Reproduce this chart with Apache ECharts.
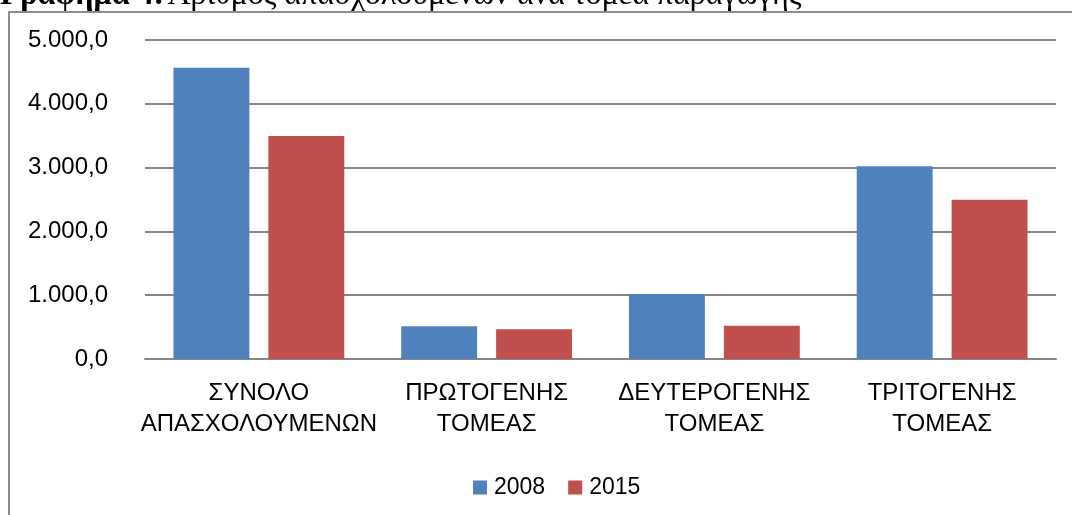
<!DOCTYPE html>
<html>
<head>
<meta charset="utf-8">
<script src="https://cdn.jsdelivr.net/npm/echarts@6/dist/echarts.min.js"></script>
<style>
html,body{margin:0;padding:0;background:#fff;}
#c{width:1072px;height:515px;}
</style>
</head>
<body>
<div id="c"></div>
<script>
const categories = ['ΣΥΝΟΛΟ\nΑΠΑΣΧΟΛΟΥΜΕΝΩΝ', 'ΠΡΩΤΟΓΕΝΗΣ\nΤΟΜΕΑΣ', 'ΔΕΥΤΕΡΟΓΕΝΗΣ\nΤΟΜΕΑΣ', 'ΤΡΙΤΟΓΕΝΗΣ\nΤΟΜΕΑΣ'];
const seriesNames = ['2008', '2015'];
const values2008 = [4565, 515, 1020, 3020];
const values2015 = [3495, 465, 520, 2495];
const yTicks = [0, 1000, 2000, 3000, 4000, 5000];

function fmt(v) {
  const s = Math.round(v).toString().replace(/\B(?=(\d{3})+(?!\d))/g, '.');
  return s + ',0';
}

const font = 'Liberation Sans';
const chart = echarts.init(document.getElementById('c'), null, {renderer: 'canvas'});
chart.setOption({
  animation: false,
  backgroundColor: '#fff',
  graphic: [
    {type: 'rect', shape: {x: 9, y: 12, width: 1200, height: 700}, style: {fill: 'none', stroke: '#8c8c8c', lineWidth: 2}, z: 0},
    {type: 'text', left: 0, top: -20, style: {
      text: '{b|Γράφημα 4:} {r|Αριθμός απασχολουμένων ανά τομέα παραγωγής}',
      rich: {
        b: {fontFamily: 'Liberation Serif', fontSize: 32, fontWeight: 'bold', fill: '#000'},
        r: {fontFamily: 'Liberation Serif', fontSize: 32, fill: '#000'}
      }
    }}
  ],
  grid: {left: 145, right: 16, top: 40, bottom: 156},
  legend: {
    data: seriesNames, left: 468, top: 471,
    itemWidth: 14, itemHeight: 14, itemGap: 23,
    icon: 'rect',
    textStyle: {fontFamily: font, fontSize: 23, color: '#000', padding: [0,0,0,2]}
  },
  xAxis: {
    type: 'category', data: categories,
    axisLine: {lineStyle: {color: '#868686', width: 2}},
    axisTick: {show: false},
    axisLabel: {interval: 0, margin: 19, fontFamily: font, fontSize: 24, color: '#000', lineHeight: 31}
  },
  yAxis: {
    type: 'value', min: 0, max: 5000, interval: 1000,
    axisLine: {show: false}, axisTick: {show: false},
    splitLine: {lineStyle: {color: '#868686', width: 2}},
    axisLabel: {margin: 37, fontFamily: font, fontSize: 24, color: '#000',
      formatter: v => yTicks.includes(v) ? fmt(v) : ''}
  },
  series: [
    {name: seriesNames[0], type: 'bar', data: values2008, itemStyle: {color: '#4F81BD'}, barGap: '25%', barCategoryGap: '25%'},
    {name: seriesNames[1], type: 'bar', data: values2015, itemStyle: {color: '#C0504D'}}
  ]
});
</script>
</body>
</html>
